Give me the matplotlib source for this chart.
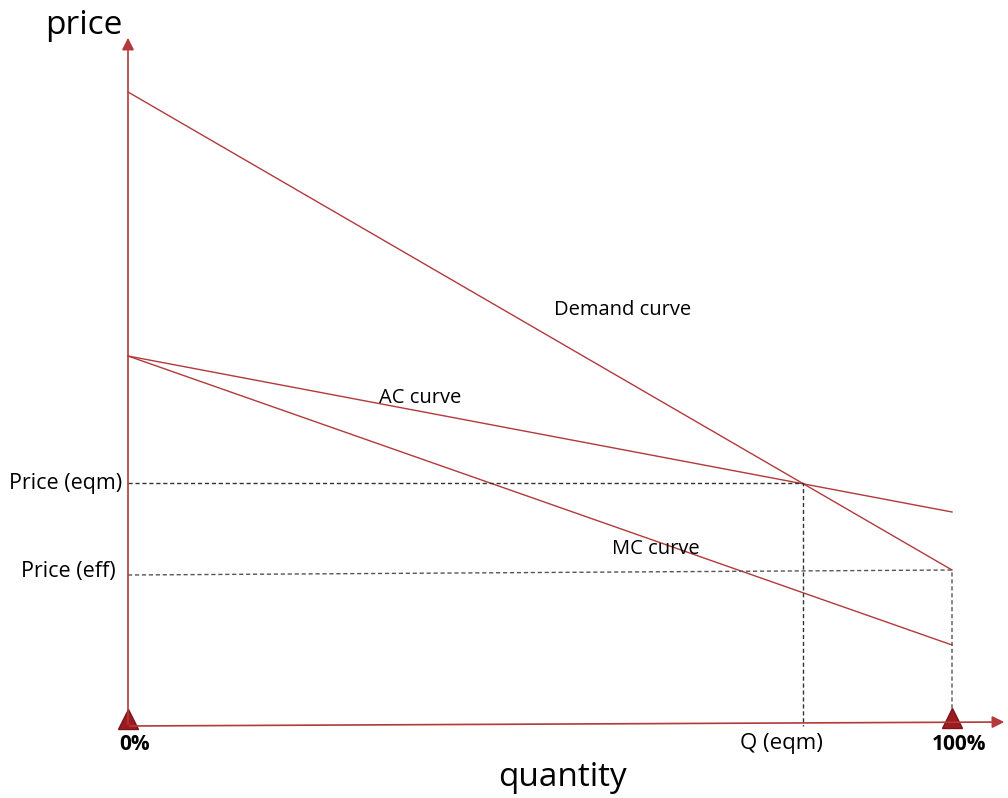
import matplotlib.pyplot as plt

# curve end points, in picture units (x right, y down)
demand_x = [128, 952]
demand_y = [92, 570]
ac_x = [128, 952]
ac_y = [356, 512]
mc_x = [128, 952]
mc_y = [356, 645]

# dashed guide lines
eqm_x = [128, 803, 803]
eqm_y = [483, 483, 726]
eff_x = [128, 952, 952]
eff_y = [575, 570, 723]

# labels
curve_labels = ["Demand curve", "AC curve", "MC curve"]
curve_label_x = [554, 379, 612]
curve_label_y = [310, 398, 549]
price_labels = ["Price (eqm)", "Price (eff)"]
price_label_y = [483, 572]
price_label_x = [122, 116]

plt.rcParams['font.family'] = ['Open Sans', 'DejaVu Sans']
red = '#b3393b'

fig = plt.figure(figsize=(10.08, 7.98), dpi=100)
ax = fig.add_axes([0, 0, 1, 1])
ax.set_xlim(0, 1008)
ax.set_ylim(798, 0)
ax.axis('off')

# axes with arrows
ax.annotate('', xy=(128, 35), xytext=(128, 727), annotation_clip=False,
            arrowprops=dict(arrowstyle='-|>', color=red, lw=1.2, mutation_scale=18))
ax.annotate('', xy=(1007, 722), xytext=(127, 726), annotation_clip=False,
            arrowprops=dict(arrowstyle='-|>', color=red, lw=1.2, mutation_scale=18))

ax.plot(demand_x, demand_y, color=red, lw=1)
ax.plot(ac_x, ac_y, color=red, lw=1)
ax.plot(mc_x, mc_y, color=red, lw=1)

ax.plot(eqm_x, eqm_y, color='#333333', lw=1, ls=(0, (3, 2)))
ax.plot(eff_x, eff_y, color='#555555', lw=1, ls=(0, (3, 2)))

# triangles marking 0% and 100%
ax.plot([128, 952], [719, 718], ls='none', marker='^', ms=14,
        color='#9b1c1f', markeredgecolor='#7a1417')

for t, x, y in zip(curve_labels, curve_label_x, curve_label_y):
    ax.text(x, y, t, fontsize=14.5, va='center', ha='left')
for t, x, y in zip(price_labels, price_label_x, price_label_y):
    ax.text(x, y, t, fontsize=15.5, va='center', ha='right')

ax.text(135, 744, "0%", fontsize=15, fontweight='bold', ha='center', va='center')
ax.text(781, 744, "Q (eqm)", fontsize=16, ha='center', va='center')
ax.text(959, 744, "100%", fontsize=15, fontweight='bold', ha='center', va='center')
ax.text(84, 25, "price", fontsize=24, ha='center', va='center')
ax.text(563, 778, "quantity", fontsize=24, ha='center', va='center')

fig.savefig('out.png', dpi=100)
